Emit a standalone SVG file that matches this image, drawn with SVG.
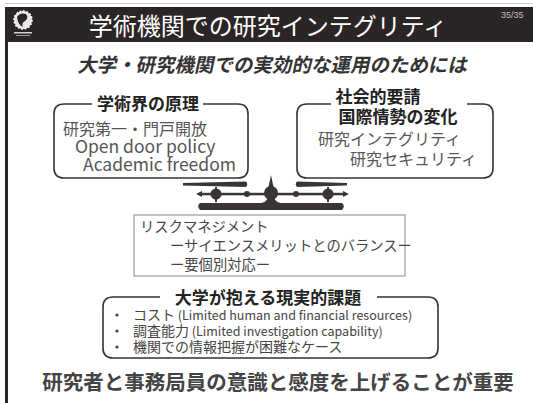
<svg xmlns="http://www.w3.org/2000/svg" width="533" height="403" viewBox="0 0 533 403">
  <style>
    .jp { font-family: "Noto Sans CJK JP", "Noto Sans", sans-serif; }
    .title { fill: #ffffff; font-size: 24px; }
    .page { fill: #bdbdbd; font-size: 9px; font-family: "Liberation Sans", sans-serif; }
    .head { fill: #222222; font-size: 17px; font-weight: bold; }
    .body { fill: #555555; font-size: 16px; }
    .latin { fill: #555555; font-size: 17.5px; }
    .small { fill: #444444; font-size: 14.3px; }
    .list { fill: #444444; font-size: 14px; }
    .list tspan { font-size: 12.5px; }
    .frame { fill: none; stroke: #333333; stroke-width: 1.6; }
    .scale { fill: #3a3435; }
  </style>

  <!-- slide background and title bar -->
  <rect x="0" y="0" width="533" height="403" fill="#ffffff"/>
  <rect x="5" y="3" width="528" height="1" fill="#cfcfcf"/>
  <rect x="5" y="7" width="528" height="35" fill="#2b2625"/>
  <rect x="5" y="7" width="3" height="396" fill="#2b2625"/>

  <!-- emblem -->
  <g id="logo">
    <circle cx="23" cy="20" r="9" fill="#e8e8e8"/>
    <path d="M17,17 Q20,12 26,14 Q29,18 25,21 Q21,23 23,27 Q18,25 17,17 Z" fill="#2b2625"/>
    <circle cx="23" cy="20" r="9" fill="none" stroke="#ffffff" stroke-width="1.5" stroke-dasharray="2 1.5"/>
    <rect x="14" y="32" width="18" height="1.5" fill="#cfcfcf"/>
    <rect x="16" y="35" width="14" height="1" fill="#9a9a9a"/>
  </g>

  <text class="jp title" x="268" y="35" text-anchor="middle">学術機関での研究インテグリティ</text>
  <text class="page" x="501" y="18">35/35</text>

  <!-- subtitle, slanted -->
  <text class="jp" x="0" y="0" font-size="19.5" font-weight="bold" fill="#333333" text-anchor="middle" transform="translate(272 72) skewX(-12)">大学・研究機関での実効的な運用のためには</text>

  <!-- academic principles -->
  <g id="node-academic">
    <path class="frame" d="M92,104 H64 Q54,104 54,114 V168 Q54,178 64,178 H238 Q248,178 248,168 V114 Q248,104 238,104 H203"/>
    <text class="jp head" x="148" y="110" text-anchor="middle">学術界の原理</text>
    <text class="jp body" x="63" y="135">研究第一・門戸開放</text>
    <text class="jp latin" x="75" y="153">Open door policy</text>
    <text class="jp latin" x="83" y="171">Academic freedom</text>
  </g>

  <!-- social demands -->
  <g id="node-social">
    <path class="frame" d="M331,104 H307 Q297,104 297,114 V168 Q297,178 307,178 H483 Q493,178 493,168 V114 Q493,104 483,104 H467"/>
    <text class="jp head" x="378" y="103" text-anchor="middle">社会的要請</text>
    <text class="jp head" x="398" y="123" text-anchor="middle">国際情勢の変化</text>
    <text class="jp body" x="318" y="145" font-size="15.3">研究インテグリティ</text>
    <text class="jp body" x="350" y="165" font-size="15.3">研究セキュリティ</text>
  </g>

  <!-- balance scale -->
  <g id="node-scale" class="scale">
    <path d="M183,183 L246,181.5 Q248.5,184 246,187 L183,185.5 Z"/>
    <path d="M347,183 L297,181.5 Q294.5,184 297,187 L347,185.5 Z"/>
    <rect x="199" y="192.8" width="146" height="2.5"/>
    <path d="M196,194 L202,191 L202,197 Z"/>
    <path d="M349,194 L343,191 L343,197 Z"/>
    <rect x="215" y="187" width="2" height="15"/>
    <rect x="327" y="187" width="2" height="15"/>
    <circle cx="216" cy="194" r="5.5"/>
    <circle cx="328" cy="194" r="5.5"/>
    <circle cx="247" cy="194" r="3"/>
    <circle cx="296" cy="194" r="3"/>
    <path d="M271,175 L273.5,187 L274.5,198 Q275,203 285,203.5 L257,203.5 Q267,203 267.5,198 L268.5,187 Z"/>
    <circle cx="271" cy="193" r="7"/>
    <path d="M200,203 H342 Q345.5,206 342,210 H200 Q196.5,206 200,203 Z"/>
  </g>

  <!-- risk management -->
  <g id="node-risk">
    <rect x="134" y="215" width="271" height="61" fill="none" stroke="#888888" stroke-width="1"/>
    <text class="jp small" x="140" y="232">リスクマネジメント</text>
    <text class="jp small" x="170" y="251">ーサイエンスメリットとのバランスー</text>
    <text class="jp small" x="170" y="270">ー要個別対応ー</text>
  </g>

  <!-- practical problems -->
  <g id="node-issues">
    <path class="frame" d="M160,297 H113 Q103,297 103,307 V348 Q103,358 113,358 H428 Q438,358 438,348 V307 Q438,297 428,297 H377"/>
    <text class="jp head" x="268" y="304" text-anchor="middle">大学が抱える現実的課題</text>
    <circle cx="117" cy="315" r="1.6" fill="#444444"/>
    <circle cx="117" cy="331" r="1.6" fill="#444444"/>
    <circle cx="117" cy="347" r="1.6" fill="#444444"/>
    <text class="jp list" x="133" y="320">コスト<tspan> (Limited human and financial resources)</tspan></text>
    <text class="jp list" x="133" y="336">調査能力<tspan> (Limited investigation capability)</tspan></text>
    <text class="jp list" x="133" y="352">機関での情報把握が困難なケース</text>
  </g>

  <text class="jp" x="278" y="390" font-size="20.5" font-weight="bold" fill="#444444" text-anchor="middle">研究者と事務局員の意識と感度を上げることが重要</text>
</svg>
